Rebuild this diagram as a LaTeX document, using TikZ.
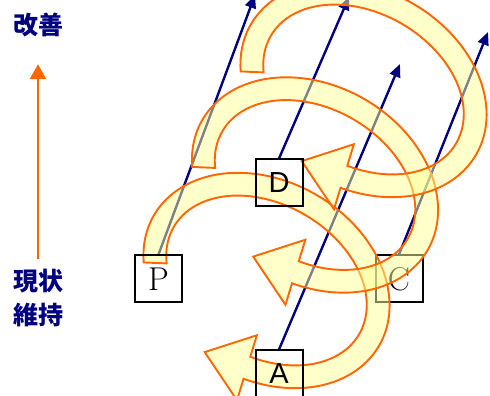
\documentclass[tikz,border=0pt]{standalone}
\usepackage{fontspec}
\usepackage{tikz}
\usetikzlibrary{arrows.meta,positioning}
\newfontfamily\jpfont{Noto Sans CJK JP}
\newfontfamily\boxsans{Liberation Sans}
\definecolor{navyblue}{RGB}{0,0,128}
\definecolor{pdcaorange}{RGB}{255,102,0}
\definecolor{pdcayellow}{RGB}{255,255,150}
\pgfdeclarelayer{front}
\pgfsetlayers{main,front}

\begin{document}
\begin{tikzpicture}[x=1pt, y=1pt,
    box/.style={rectangle, draw=black, line width=2pt,
                minimum size=47pt, inner sep=0pt},
    jptext/.style={font=\jpfont\bfseries\fontsize{25}{34}\selectfont, text=navyblue,
                   align=center, inner sep=0pt},
    upflow/.style={-{Triangle[length=13pt, width=11pt]}, navyblue, line width=2.4pt},
    goalarrow/.style={-{Triangle[length=15pt, width=16pt]}, pdcaorange, line width=2.6pt},
    cyclearrow/.pic={
        \draw[draw=pdcaorange, fill=pdcayellow, fill opacity=0.5, line width=1.9pt]
            (207.5:130.1pt and 99.1pt)
            arc[start angle=207.5, end angle=-77, x radius=130.1pt, y radius=99.1pt]
            -- (-77:152.6pt and 121.6pt) -- (-17.7pt,-92.9pt)
            -- (-77:84.6pt and 53.6pt) -- (-77:107.1pt and 76.1pt)
            arc[start angle=-77, end angle=207.5, x radius=107.1pt, y radius=76.1pt]
            -- cycle;
    }
]
    \useasboundingbox (0,0) rectangle (490,396);
    \clip (0,0) rectangle (490,396);

    \node[jptext] (improve) at (38,371) {改善};
    \node[jptext] (keep) at (38,98) {現状\\維持};
    \draw[goalarrow, shorten <=10pt, shorten >=27pt] (keep.north) -- (improve.south);

    \begin{pgfonlayer}{front}
    \node[box, font=\fontsize{33}{33}\selectfont] (P) at (158.5,117) {P};
    \node[box, font=\boxsans\fontsize{29}{29}\selectfont] (D) at (279,213) {D};
    \node[box, font=\boxsans\fontsize{29}{29}\selectfont] (A) at (279,22) {A};
    \end{pgfonlayer}
    \node[box, font=\fontsize{33}{33}\selectfont] (C) at (399,117) {C};

    \coordinate (P end) at (255,401);
    \coordinate (D end) at (349,399);
    \coordinate (A end) at (400,332);
    \coordinate (C end) at (488,364);

    \draw[upflow] (P.north) -- (P end);
    \draw[upflow] (D.north) -- (D end);
    \draw[upflow] (A.north) -- (A end);
    \draw[upflow] (C.north) -- (C end);

    \pic[rotate=-30] at (266.5,115.5) {cyclearrow};
    \pic[rotate=-30] at (315,211) {cyclearrow};
    \pic[rotate=-30] at (363.5,306.5) {cyclearrow};
\end{tikzpicture}
\end{document}
